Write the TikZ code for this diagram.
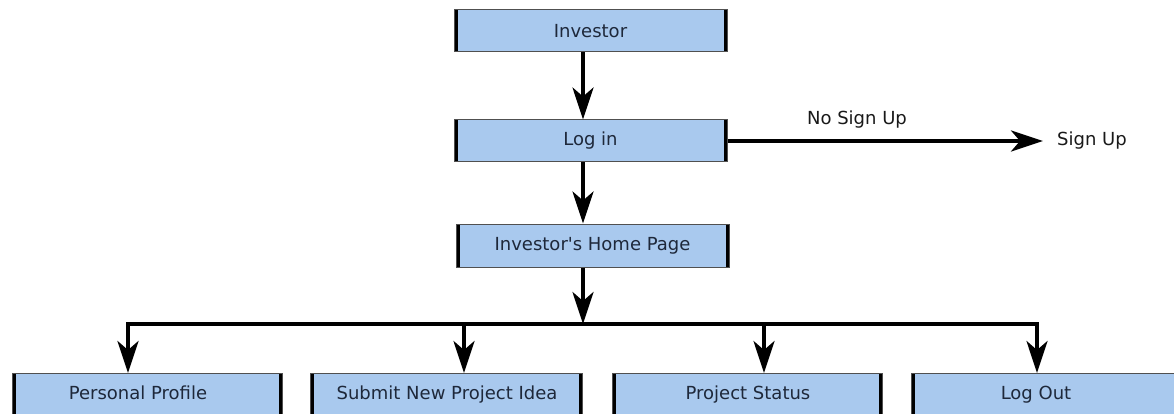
\documentclass[tikz,border=0pt]{standalone}
\usepackage{fontspec}
\setmainfont{DejaVu Sans}[Ligatures=TeXOff]
\usetikzlibrary{arrows.meta}
\definecolor{boxfill}{RGB}{169,201,238}
\definecolor{boxedge}{RGB}{80,80,80}
\definecolor{boxtext}{RGB}{30,40,58}
\tikzset{
  fbox/.style={draw=boxedge, line width=1pt, fill=boxfill, inner sep=0pt,
    minimum height=42pt, text=boxtext, font=\fontsize{18}{20}\selectfont,
    path picture={\draw[line width=7pt,black]
      (path picture bounding box.north west) -- (path picture bounding box.south west)
      (path picture bounding box.north east) -- (path picture bounding box.south east);}},
  plain/.style={inner sep=0pt, text=black!90, font=\fontsize{18}{20}\selectfont},
  btext/.style={plain, text=boxtext, anchor=base},
  arr/.style={line width=3.5pt, -{Stealth[length=32pt,width=21pt,inset=9pt]}},
  bus/.style={line width=3.5pt}
}
\begin{document}
\begin{tikzpicture}[x=1pt,y=-1pt]
\useasboundingbox[fill=white] (0,0) rectangle (1174,414);
\node[fbox, minimum width=273pt] (inv) at (590.5,31) {Investor};
\node[fbox, minimum width=273pt] (li) at (590.5,141) {Log in};
\node[fbox, minimum width=273pt, minimum height=43pt] (hp) at (592.5,245.5) {Investor's Home Page};
\node[fbox, minimum width=270pt, minimum height=46pt, anchor=north west] (pp) at (12,373) {};
\node[fbox, minimum width=272pt, minimum height=46pt, anchor=north west] (sn) at (310,373) {};
\node[fbox, minimum width=270pt, minimum height=46pt, anchor=north west] (ps) at (612,373) {};
\node[fbox, minimum width=272pt, minimum height=46pt, anchor=north west] (lo) at (911,373) {};
\node[btext] (ppt) at (138,399) {Personal Profile};
\node[btext] (snt) at (447,399) {Submit New Project Idea};
\node[btext] (pst) at (748,399) {Project Status};
\node[btext] (lot) at (1036,399) {Log Out};
\node[plain, anchor=west] (su) at (1057,141) {Sign Up};
\node[plain] (nsu) at (857,120) {No Sign Up};
\coordinate (c0) at (583,324);
\coordinate (c1) at (128,324);
\coordinate (c2) at (464,324);
\coordinate (c3) at (764,324);
\coordinate (c4) at (1037,324);
\draw[arr] (inv.south -| c0) -- (li.north -| c0);
\draw[arr] (li.south -| c0) -- (hp.north -| c0);
\draw[arr] (hp.south -| c0) -- (c0);
\draw[arr, shorten >=14pt] (li.east) -- (li.east -| su.west);
\draw[bus, line cap=rect] (c1) -- (c4);
\draw[arr] (c1) -- (c1 |- pp.north);
\draw[arr] (c2) -- (c2 |- sn.north);
\draw[arr] (c3) -- (c3 |- ps.north);
\draw[arr] (c4) -- (c4 |- lo.north);
\end{tikzpicture}
\end{document}
